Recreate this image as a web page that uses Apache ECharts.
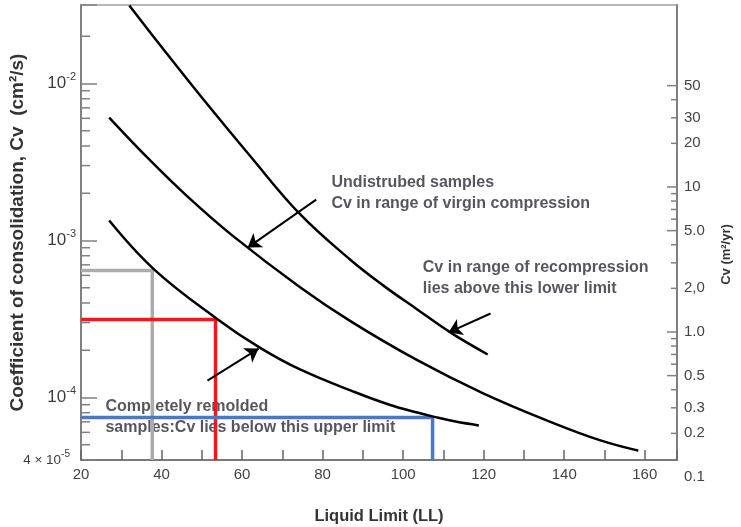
<!DOCTYPE html>
<html><head><meta charset="utf-8">
<script src="https://cdn.jsdelivr.net/npm/echarts@6/dist/echarts.min.js"></script>
<style>html,body{margin:0;padding:0;background:#fff}#c{width:741px;height:527px}</style>
</head><body><div id="c"></div>
<script>
// ---------- data ----------
const xTickLabels = [20, 40, 60, 80, 100, 120, 140, 160];
// Liquid limit vs Cv (cm^2/s)
const recompressionLower = [[32.0,0.0314],[40.7,0.01622],[49.4,8.51e-3],[61.9,3.48e-3],[74.4,1.47e-3],[86.8,7.57e-4],[95.1,5.16e-4],[103.5,3.64e-4],[111.8,2.59e-4],[121.0,1.88e-4]];
const virginCompression = [[27.0,6.07e-3],[37.0,3.27e-3],[46.4,1.91e-3],[57.7,1.07e-3],[74.4,5.04e-4],[86.8,3.08e-4],[103.5,1.73e-4],[120.0,1.06e-4],[136.7,6.98e-5],[149.2,5.31e-5],[158.4,4.59e-5]];
const remoldedUpper = [[27.0,1.34e-3],[38.2,6.53e-4],[53.7,3.18e-4],[64.4,2.08e-4],[74.4,1.51e-4],[88.1,1.08e-4],[96.8,8.96e-5],[103.5,8.02e-5],[107.5,7.56e-5],[113.0,7.03e-5],[118.8,6.64e-5]];
// reference read-off lines: [LL, Cv]
const grayLine = [[20,6.44e-4],[37.7,6.44e-4],[37.7,4e-5]];
const redLine  = [[20,3.14e-4],[53.4,3.14e-4],[53.4,4e-5]];
const blueLine = [[20,7.46e-5],[107.3,7.46e-5],[107.3,4e-5]];
// left axis (cm^2/s) minor ticks
const leftMinorTicks = [2e-2,9e-3,8e-3,7e-3,6e-3,5e-3,4e-3,3e-3,2e-3,9e-4,8e-4,7e-4,6e-4,5e-4,4e-4,3e-4,2e-4,9e-5,8e-5,7e-5,6e-5,5e-5];
// right axis (m^2/yr)
const rightMajorTicks = [50,10,5,1,0.5];
const rightMinorTicks = [40,30,20,9,8,7,6,4,3,2,0.9,0.8,0.7,0.6,0.4,0.3,0.2];
const rightTickValues = [50,30,20,10,5,2,1,0.5,0.3,0.2,0.1];
const rightTickLabels = ['50','30','20','10','5.0','2,0','1.0','0.5','0.3','0.2','0.1'];

const X_MIN = 20, X_MAX = 168;
const FONT = 'Liberation Sans, Arial, sans-serif';
const AX = '#808080';

const chart = echarts.init(document.getElementById('c'), null, {renderer: 'canvas'});

function tickSeries(name, values, yIdx, xAt, len, dir, width) {
  return {
    type: 'custom', name: name, yAxisIndex: yIdx, silent: true, z: 5,
    data: values.map(v => [xAt, v]),
    renderItem: function (params, api) {
      const p = api.coord([api.value(0), api.value(1)]);
      return {type: 'line', shape: {x1: p[0], y1: p[1], x2: p[0] + dir * len, y2: p[1]},
              style: {stroke: AX, lineWidth: width}};
    }
  };
}

const option = {
  animation: false,
  textStyle: {fontFamily: FONT},
  grid: {left: 81, right: 64, top: 5, bottom: 67, show: true, borderColor: '#a0a0a0', borderWidth: 1.5,
         containLabel: false, outerBoundsMode: 'none'},
  xAxis: {
    type: 'value', min: X_MIN, max: X_MAX, interval: 10,
    name: 'Liquid Limit (LL)', nameLocation: 'middle', nameGap: 48, nameMoveOverlap: false,
    nameTextStyle: {fontSize: 16.5, fontWeight: 'bold', color: '#333', fontFamily: FONT},
    axisLine: {show: true, lineStyle: {color: '#666', width: 1.5}},
    axisTick: {show: true, inside: true, length: 10, lineStyle: {color: '#666', width: 1.5}},
    axisLabel: {margin: 7, fontSize: 15, color: '#444', fontFamily: FONT,
      formatter: v => (xTickLabels.indexOf(v) >= 0 ? String(v) : '')},
    splitLine: {show: false}
  },
  yAxis: [{
    type: 'log', logBase: 10, min: 4e-5, max: Math.pow(10, -1.5), position: 'left',
    name: 'Coefficient of consolidation, Cv  (cm²/s)', nameLocation: 'middle', nameGap: 54, nameRotate: 90,
    nameMoveOverlap: false,
    nameTextStyle: {fontSize: 19, fontWeight: 'bold', color: '#333', fontFamily: FONT},
    axisLine: {show: true, lineStyle: {color: AX, width: 2}},
    axisTick: {show: true, inside: true, length: 16, lineStyle: {color: AX, width: 1.5}},
    axisLabel: {margin: 5, color: '#3c3c3c', fontFamily: FONT,
      formatter: function (v) {
        if (Math.abs(v - 4e-5) / 4e-5 < 0.01) return '{m|4 × 10}{ms|-5}';
        const e = Math.log10(v);
        if (Math.abs(e - Math.round(e)) < 1e-6) return '{b|10}{s|' + Math.round(e) + '}';
        return '';
      },
      rich: {
        b: {fontSize: 17, lineHeight: 24, color: '#3c3c3c', fontFamily: FONT},
        s: {fontSize: 11, verticalAlign: 'top', color: '#3c3c3c', fontFamily: FONT},
        m: {fontSize: 13.5, lineHeight: 22, color: '#3c3c3c', fontFamily: FONT},
        ms: {fontSize: 10, verticalAlign: 'top', color: '#3c3c3c', fontFamily: FONT, padding: [0, 6, 0, 0]}
      }
    },
    splitLine: {show: false}
  }, {
    type: 'log', logBase: 10, min: 0.131, max: 179.9, position: 'right',
    name: 'Cv (m²/yr)', nameLocation: 'middle', nameGap: 43, nameRotate: 90, nameMoveOverlap: false,
    nameTextStyle: {fontSize: 13, fontWeight: 'bold', color: '#333', fontFamily: FONT, padding: [0, 44, 0, 0]},
    axisLine: {show: true, lineStyle: {color: AX, width: 2}},
    axisTick: {show: false}, axisLabel: {show: false}, splitLine: {show: false}
  }],
  series: [
    tickSeries('leftMinor', leftMinorTicks, 0, X_MIN, 9, 1, 1.5),
    tickSeries('rightMajor', rightMajorTicks, 1, X_MAX, 10, -1, 1.5),
    tickSeries('rightMinor', rightMinorTicks, 1, X_MAX, 6, -1, 1.5),
    {
      type: 'custom', name: 'rightLabels', yAxisIndex: 1, silent: true, z: 5,
      data: rightTickValues.map((v, i) => [X_MAX, v, i]),
      renderItem: function (params, api) {
        const p = api.coord([api.value(0), api.value(1)]);
        return {type: 'text', x: p[0] + 7, y: p[1],
          style: {text: rightTickLabels[api.value(2)], fill: '#444', font: '15px ' + FONT,
                  align: 'left', verticalAlign: 'middle', textAlign: 'left', textVerticalAlign: 'middle'}};
      }
    },
    // annotation texts
    {
      type: 'scatter', z: 1, silent: true, symbolSize: 1, itemStyle: {color: 'rgba(0,0,0,0)'},
      data: [
        {value: [82.3, 2.69e-3], label: {formatter: 'Undistrubed samples\nCv in range of virgin compression'}},
        {value: [105.0, 7.74e-4], label: {formatter: 'Cv in range of recompression\nlies above this lower limit'}},
        {value: [26.2, 1.007e-4], label: {formatter: 'Completely remolded\nsamples:Cv lies below this upper limit'}}
      ],
      label: {show: true, position: [0, 0], align: 'left', verticalAlign: 'top', fontSize: 16, fontWeight: 'bold',
              lineHeight: 21, color: '#2e2a38', fontFamily: FONT}
    },
    {type: 'line', z: 2, data: grayLine, showSymbol: false, silent: true, lineStyle: {color: '#acacac', width: 3.5}},
    {type: 'line', z: 2, data: redLine, showSymbol: false, silent: true, lineStyle: {color: '#f01818', width: 3.5}},
    {type: 'line', z: 2, data: blueLine, showSymbol: false, silent: true, lineStyle: {color: '#4a78c6', width: 3.5}},
    {type: 'line', z: 3, data: recompressionLower, smooth: 0.4, showSymbol: false, silent: true, lineStyle: {color: '#000', width: 2.5}},
    {type: 'line', z: 3, data: virginCompression, smooth: 0.4, showSymbol: false, silent: true, lineStyle: {color: '#000', width: 2.5}},
    {type: 'line', z: 3, data: remoldedUpper, smooth: 0.4, showSymbol: false, silent: true, lineStyle: {color: '#000', width: 2.5},
      markLine: {
        silent: true, symbol: ['none', 'arrow'], symbolSize: 13, label: {show: false},
        lineStyle: {color: '#000', width: 2, type: 'solid'},
        data: [
          [{coord: [78.4, 1.82e-3]}, {coord: [61.4, 9.01e-4]}],
          [{coord: [121.7, 3.43e-4]}, {coord: [111.3, 2.60e-4]}],
          [{coord: [51.4, 1.28e-4]}, {coord: [64.1, 2.05e-4]}]
        ]
      }
    }
  ]
};
chart.setOption(option);
</script></body></html>
